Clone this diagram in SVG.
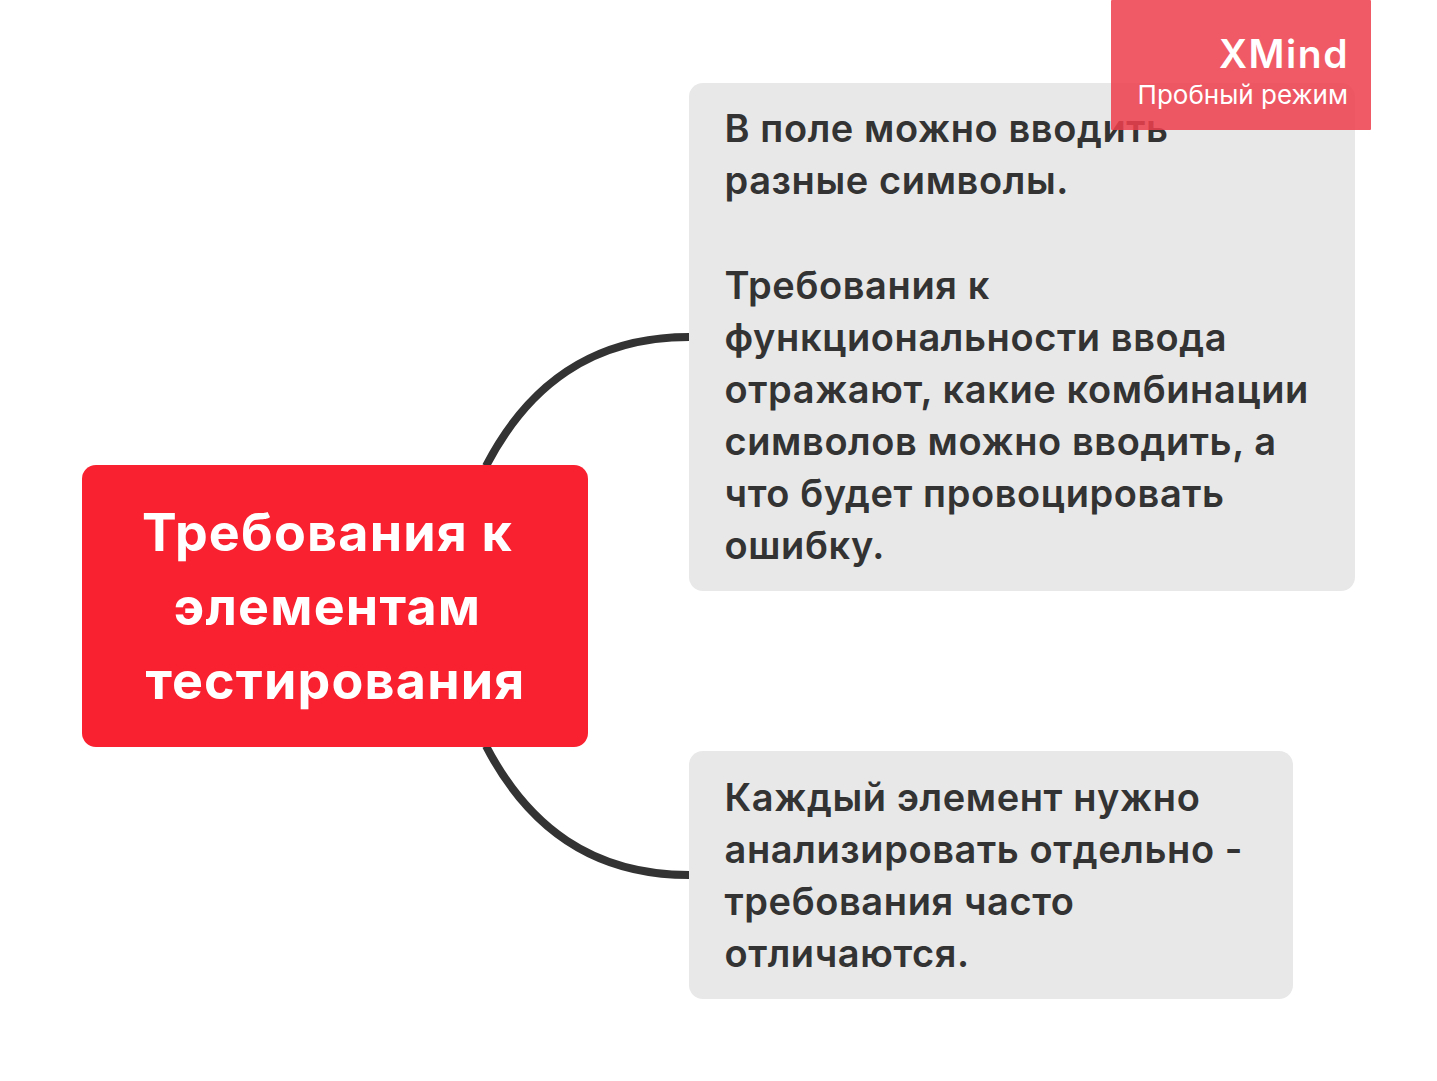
<svg xmlns="http://www.w3.org/2000/svg" width="1437" height="1081" viewBox="0 0 1437 1081">
<style>
.t{font-family:"Inter","Liberation Sans",sans-serif;font-size:38px;font-weight:570;letter-spacing:.6px;fill:#333}
.c{font-family:"Inter","Liberation Sans",sans-serif;font-size:52px;font-weight:700;letter-spacing:1.2px;fill:#fff;text-anchor:middle}
.n{fill:#e8e8e8}
</style>
<rect width="1437" height="1081" fill="#fff"/>
<g id="connectors" fill="none" stroke="#333" stroke-width="8">
<path d="M486 466C528 385 592 337 689 337"/>
<path d="M486 746C528 827 592 875 689 875"/>
</g>
<g id="root"><rect x="82" y="465" width="506" height="282" rx="14" fill="#f9212f"/>
<text class="c" x="327.500" y="551">Требования к</text><text class="c" x="327.500" y="625">элементам</text><text class="c" x="335.500" y="699">тестирования</text></g>
<g id="node1"><rect class="n" x="689" y="83" width="666" height="508" rx="14"/>
<text class="t" x="724.500" y="142">В поле можно вводить</text><text class="t" x="724.500" y="194">разные символы.</text><text class="t" x="724.500" y="299">Требования к</text><text class="t" x="724.500" y="351">функциональности ввода</text><text class="t" x="724.500" y="403">отражают, какие комбинации</text><text class="t" x="724.500" y="455">символов можно вводить, а</text><text class="t" x="724.500" y="507">что будет провоцировать</text><text class="t" x="724.500" y="559">ошибку.</text></g>
<g id="node2"><rect class="n" x="689" y="751" width="604" height="248" rx="14"/>
<text class="t" x="724.500" y="811">Каждый элемент нужно</text><text class="t" x="724.500" y="863">анализировать отдельно -</text><text class="t" x="724.500" y="915">требования часто</text><text class="t" x="724.500" y="967">отличаются.</text></g>
<g id="watermark"><rect x="1111" y="0" width="260" height="130" rx="1" fill="#ee3f4d" fill-opacity=".86"/>
<text x="1349" y="68" text-anchor="end" letter-spacing="1.5" font-family="Inter,'Liberation Sans',sans-serif" font-size="39" font-weight="600" fill="#fff">XMind</text>
<text x="1348" y="104" text-anchor="end" font-family="Inter,'Liberation Sans',sans-serif" font-size="26" fill="#fff">Пробный режим</text></g>
</svg>
